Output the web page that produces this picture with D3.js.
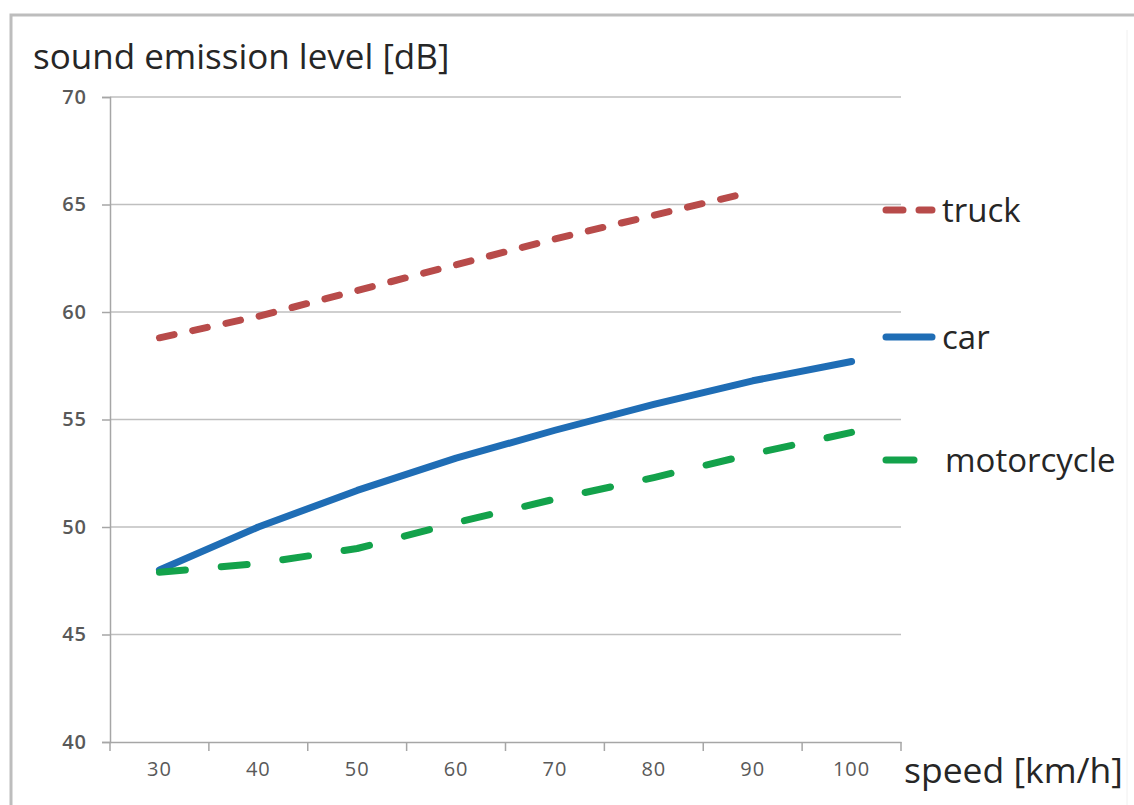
<!DOCTYPE html>
<html>
<head>
<meta charset="utf-8">
<script src="https://cdn.jsdelivr.net/npm/d3@7"></script>
<style>
  body { margin: 0; background: #fff; }
  text { font-family: "Open Sans", "Noto Sans", sans-serif; }
</style>
</head>
<body>
<div id="chart"></div>
<script>
// data
var speeds = [30, 40, 50, 60, 70, 80, 90, 100];
var truck = [58.8, 59.8, 61.0, 62.2, 63.4, 64.5, 65.6, null];
var car = [48.0, 50.0, 51.7, 53.2, 54.5, 55.7, 56.8, 57.7];
var motorcycle = [47.9, 48.3, 49.0, 50.2, 51.3, 52.3, 53.4, 54.4];
var yTicks = [40, 45, 50, 55, 60, 65, 70];

var series = [
  { name: 'truck', values: truck, color: '#b84b4a', dash: '15,19', legendY: 210, legendLen: 52 },
  { name: 'car', values: car, color: '#1f6db5', dash: null, legendY: 337, legendLen: 52 },
  { name: 'motorcycle', values: motorcycle, color: '#13a24b', dash: '26,36', legendY: 460, legendLen: 34 }
];

var W = 1134, H = 805;
// plot area
var plotLeft = 110, plotRight = 901, plotTop = 97, plotBottom = 742;

var svg = d3.select('#chart').append('svg')
    .attr('width', W)
    .attr('height', H);

// outer frame
svg.append('path')
    .attr('d', 'M11,' + H + 'V15H' + W)
    .attr('fill', 'none')
    .attr('stroke', '#bdbdbd')
    .attr('stroke-width', 3);
svg.append('line')
    .attr('x1', 1127).attr('x2', 1127).attr('y1', 30).attr('y2', H)
    .attr('stroke', '#f0f0f0');

var x = d3.scaleBand()
    .domain(speeds)
    .range([plotLeft, plotRight]);

var y = d3.scaleLinear()
    .domain([40, 70])
    .range([plotBottom, plotTop]);

// gridlines
svg.append('g')
    .selectAll('line')
    .data(yTicks.filter(function (d) { return d > 40; }))
    .enter().append('line')
    .attr('x1', plotLeft).attr('x2', plotRight)
    .attr('y1', function (d) { return y(d); })
    .attr('y2', function (d) { return y(d); })
    .attr('stroke', '#bfbfbf')
    .attr('stroke-width', 1.5);

// y axis
var yAxis = svg.append('g')
    .attr('transform', 'translate(' + plotLeft + ',0)')
    .call(d3.axisLeft(y).tickValues(yTicks).tickSize(8).tickPadding(15));
yAxis.select('.domain').attr('stroke', '#a6a6a6').attr('stroke-width', 1.5);
yAxis.selectAll('.tick line').attr('stroke', '#a6a6a6').attr('stroke-width', 1.5);
yAxis.selectAll('.tick text')
    .attr('fill', '#595959')
    .attr('font-size', 20)
    .attr('font-weight', 600)
    .style('letter-spacing', '1px');

// x axis, ticks between the categories
var xAxis = svg.append('g')
    .attr('transform', 'translate(0,' + plotBottom + ')')
    .call(d3.axisBottom(x).tickSize(0).tickPadding(20).tickSizeOuter(0));
xAxis.select('.domain').attr('stroke', '#a6a6a6').attr('stroke-width', 1.5);
xAxis.selectAll('.tick text')
    .attr('fill', '#595959')
    .attr('font-size', 20)
    .style('letter-spacing', '1px');
xAxis.selectAll('.sep')
    .data(speeds.concat(['end']))
    .enter().append('line')
    .attr('class', 'sep')
    .attr('x1', function (d, i) { return i < speeds.length ? x(d) : plotRight; })
    .attr('x2', function (d, i) { return i < speeds.length ? x(d) : plotRight; })
    .attr('y1', 0).attr('y2', 9)
    .attr('stroke', '#a6a6a6')
    .attr('stroke-width', 1.5);

// lines
var line = d3.line()
    .defined(function (d) { return d != null; })
    .x(function (d, i) { return x(speeds[i]) + x.bandwidth() / 2; })
    .y(function (d) { return y(d); });

svg.append('g')
    .selectAll('path')
    .data(series)
    .enter().append('path')
    .attr('d', function (s) { return line(s.values); })
    .attr('fill', 'none')
    .attr('stroke', function (s) { return s.color; })
    .attr('stroke-width', 7)
    .attr('stroke-linecap', 'round')
    .attr('stroke-linejoin', 'round')
    .attr('stroke-dasharray', function (s) { return s.dash; });

// legend
var legend = svg.append('g')
    .selectAll('g')
    .data(series)
    .enter().append('g');

legend.append('line')
    .attr('x1', 886)
    .attr('x2', function (s) { return 886 + s.legendLen - 6; })
    .attr('y1', function (s) { return s.legendY; })
    .attr('y2', function (s) { return s.legendY; })
    .attr('stroke', function (s) { return s.color; })
    .attr('stroke-width', 7)
    .attr('stroke-linecap', 'round')
    .attr('stroke-dasharray', function (s) { return s.name == 'truck' ? '17,16' : null; });

legend.append('text')
    .attr('x', function (s) { return s.name == 'motorcycle' ? 945 : 942; })
    .attr('y', function (s) { return s.legendY + 12; })
    .attr('fill', '#262626')
    .style('font-size', '33px')
    .text(function (s) { return s.name; });

// axis titles
svg.append('text')
    .attr('x', 33).attr('y', 69)
    .attr('fill', '#262626')
    .style('font-size', '35px')
    .text('sound emission level [dB]');

svg.append('text')
    .attr('x', 904).attr('y', 783)
    .attr('fill', '#262626')
    .style('font-size', '35.5px')
    .text('speed [km/h]');
</script>
</body>
</html>
